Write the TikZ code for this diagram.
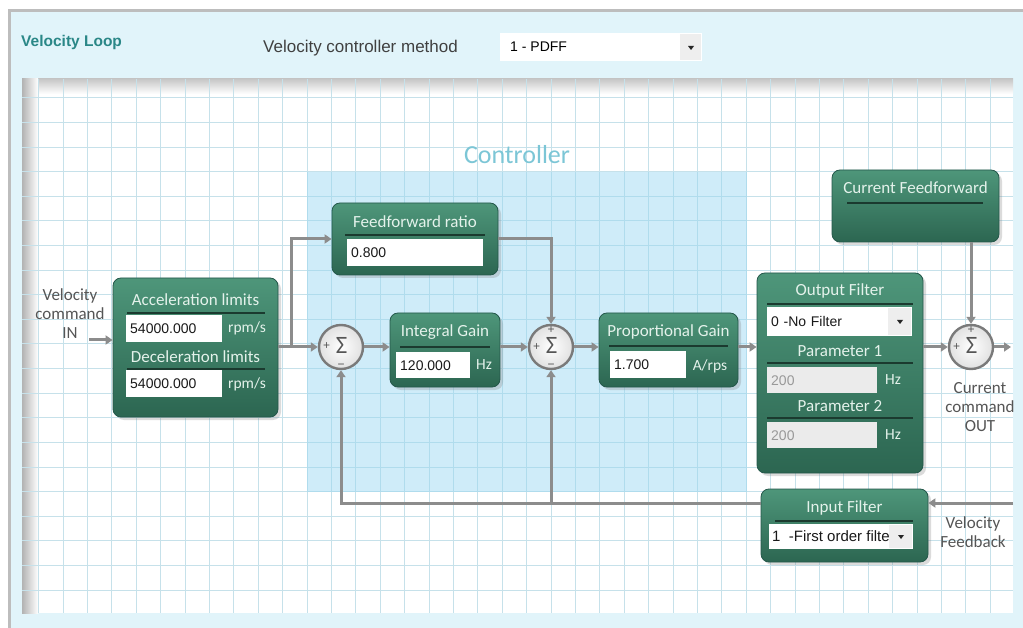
\documentclass[tikz,border=0pt]{standalone}
\usepackage{fontspec}
\setmainfont{Carlito}
\newfontfamily\arialf{Liberation Sans}
\usetikzlibrary{arrows.meta,shadows,calc}

\definecolor{panelbg}{HTML}{E1F4FA}
\definecolor{framegray}{HTML}{BDBDBD}
\definecolor{gridln}{HTML}{C6E1EA}
\definecolor{ctrlblue}{HTML}{96D7F2}
\definecolor{ctrltext}{HTML}{7CC6D6}
\definecolor{blkTop}{HTML}{4E967A}
\definecolor{blkBot}{HTML}{2C6651}
\definecolor{blkEdge}{HTML}{24574A}
\definecolor{blkText}{HTML}{E4F2EB}
\definecolor{grooveclr}{HTML}{1B3A2F}
\definecolor{wireclr}{HTML}{8C8C8C}
\definecolor{labelgray}{HTML}{555555}
\definecolor{loopteal}{HTML}{2A8787}
\definecolor{fieldgray}{HTML}{EBEBEB}
\definecolor{btngray}{HTML}{EEEEEE}
\definecolor{sumring}{HTML}{7A7A7A}
\definecolor{sumtext}{HTML}{555555}

\begin{document}
\begin{tikzpicture}[x=1pt,y=-1pt,
  block/.style={rounded corners=8pt, draw=blkEdge, line width=0.8pt,
    top color=blkTop, bottom color=blkBot, inner sep=0pt,
    drop shadow={opacity=0.28, shadow xshift=3pt, shadow yshift=-3pt}},
  ttl/.style={text=blkText, font=\fontsize{17}{19}\selectfont, inner sep=0pt},
  unit/.style={text=blkText, font=\fontsize{15.5}{17}\selectfont, inner sep=0pt},
  fld/.style={fill=white, text=black!90, font=\arialf\fontsize{14}{16}\selectfont,
    align=left, inner xsep=4pt, inner ysep=0pt, anchor=north west},
  greyfld/.style={fld, fill=fieldgray, text=black!40},
  lbl/.style={text=labelgray, font=\fontsize{17}{19}\selectfont, align=center, inner sep=0pt},
  groove/.style={draw=grooveclr, line width=2pt},
  wire/.style={draw=wireclr, line width=3pt, -{Triangle[length=7pt,width=9pt]}},
  sumj/.style={circle, minimum size=44pt, inner sep=0pt, draw=sumring, line width=2.4pt,
    inner color=white, outer color=black!12},
  sigma/.style={text=sumtext, font=\fontsize{25}{25}\selectfont, inner sep=0pt,
    text height=16pt, text depth=0pt},
  sgn/.style={text=sumtext, font=\arialf\fontsize{12}{12}\selectfont, inner sep=0pt},
  ddarrow/.style={fill=black!85}
]
\useasboundingbox (0,0) rectangle (1023,628);

% panel and frame
\fill[white] (0,0) rectangle (1023,628);
\fill[panelbg] (10,11) rectangle (1023,628);
\draw[framegray, line width=3pt] (9.5,628) -- (9.5,11) -- (1023,11);

% header row
\node[font=\arialf\bfseries\fontsize{15.5}{17}\selectfont, text=loopteal, anchor=west, inner sep=0pt]
  (loopTitle) at (21,42) {Velocity Loop};
\node[font=\arialf\fontsize{17}{19}\selectfont, text=black!75, anchor=west, inner sep=0pt]
  (methodLbl) at (263,48) {Velocity controller method};
\node[fill=white, minimum width=202pt, minimum height=28pt, anchor=north west, inner sep=0pt]
  (methodBox) at (500,33) {};
\fill[btngray] (680,34) rectangle (701,60);
\fill[ddarrow] (688,46) -- (694,46) -- (691,50) -- cycle;
\node[font=\arialf\fontsize{14}{16}\selectfont, anchor=west, inner sep=0pt]
  (methodVal) at (510,47) {1 - PDFF};

% grid sheet
\fill[white] (22,79) rectangle (1013,613);
\shade[top color=black!22, bottom color=white] (22,79) rectangle (1013,94);
\shade[left color=black!30, right color=white] (22,79) rectangle (38,613);
\begin{scope}
  \clip (22,79) rectangle (1013,613);
  \foreach \i in {0,...,40} \draw[gridln, line width=1pt] ({38.6+24.4*\i},79) -- ++(0,534);
  \foreach \j in {0,...,21} \draw[gridln, line width=1pt] (22,{98+24.6*\j}) -- ++(991,0);
\end{scope}

% controller region
\fill[ctrlblue, fill opacity=0.45] (307,172) rectangle (747,492);
\node[text=ctrltext, font=\fontsize{26}{26}\selectfont, inner sep=0pt] (ctrlLbl) at (517,155) {Controller};

% ---- blocks ----
% acceleration / deceleration limits
\node[block, minimum width=165pt, minimum height=139pt] (acc) at (195.5,347.5) {};
\node[ttl] (accT) at (195.5,300) {Acceleration limits};
\draw[groove] (127,313) -- (265,313);
\node[fld, text width=88pt, minimum height=27pt] (accV) at (126,315) {54000.000};
\node[unit] (accU) at (247,328) {rpm/s};
\node[ttl] (decT) at (195.5,357) {Deceleration limits};
\draw[groove] (127,369) -- (265,369);
\node[fld, text width=88pt, minimum height=27pt] (decV) at (126,370) {54000.000};
\node[unit] (decU) at (247,384) {rpm/s};

% feedforward ratio
\node[block, minimum width=166pt, minimum height=72pt] (ff) at (415,239) {};
\node[ttl] (ffT) at (415,222) {Feedforward ratio};
\draw[groove] (345,235) -- (485,235);
\node[fld, text width=128pt, minimum height=27pt] (ffV) at (347,239) {0.800};

% integral gain
\node[block, minimum width=110pt, minimum height=74pt] (ig) at (445,350) {};
\node[ttl] (igT) at (445,332) {Integral Gain};
\draw[groove] (400,347) -- (490,347);
\node[fld, text width=66pt, minimum height=26pt] (igV) at (396,352) {120.000};
\node[unit] (igU) at (484,365) {Hz};

% proportional gain
\node[block, minimum width=139pt, minimum height=74pt] (pg) at (668.5,350) {};
\node[ttl] (pgT) at (668.5,332) {Proportional Gain};
\draw[groove] (609,346) -- (728,346);
\node[fld, text width=68pt, minimum height=27pt] (pgV) at (610,351) {1.700};
\node[unit] (pgU) at (710,366) {A/rps};

% output filter
\node[block, minimum width=166pt, minimum height=200pt] (of) at (840,373) {};
\node[ttl] (ofT) at (840,291) {Output Filter};
\draw[groove] (767,304) -- (913,304);
\node[fld, text width=137pt, minimum height=29pt] (ofSel) at (767,307) {0 -No Filter};
\fill[btngray] (888,308) rectangle (911,335);
\fill[ddarrow] (897,320) -- (903,320) -- (900,324) -- cycle;
\node[ttl] (p1T) at (840,351) {Parameter 1};
\draw[groove] (767,363) -- (913,363);
\node[greyfld, text width=102pt, minimum height=26pt] (p1V) at (767,367) {200};
\node[unit] (p1U) at (893,380) {Hz};
\node[ttl] (p2T) at (840,406) {Parameter 2};
\draw[groove] (767,418) -- (913,418);
\node[greyfld, text width=102pt, minimum height=26pt] (p2V) at (767,422) {200};
\node[unit] (p2U) at (893,435) {Hz};

% current feedforward
\node[block, minimum width=167pt, minimum height=72pt] (cf) at (915.5,206) {};
\node[ttl] (cfT) at (915.5,188) {Current Feedforward};
\draw[groove] (847,203) -- (983,203);

% input filter
\node[block, minimum width=167pt, minimum height=73pt] (inf) at (844.5,525.5) {};
\node[ttl] (infT) at (844.5,508) {Input Filter};
\draw[groove] (775,521) -- (913,521);
\fill[white] (769,524) rectangle (913,549);
\begin{scope}
  \clip (769,524) rectangle (888,549);
  \node[font=\arialf\fontsize{15}{16}\selectfont, text=black!90, anchor=west, inner sep=0pt]
    (infSel) at (772,536.5) {1 \ -First order filter};
\end{scope}
\fill[btngray] (889,525) rectangle (912,548);
\fill[ddarrow] (898,535) -- (904,535) -- (901,539) -- cycle;

% ---- summing junctions ----
\node[sumj] (s1) at (341,347) {};
\node[sigma] (s1g) at ($(s1)+(0.5,-2)$) {Σ};
\node[sgn] (s1a) at ($(s1)+(-14.5,-1)$) {+};
\node[sgn] (s1b) at ($(s1)+(0,19)$) {−};

\node[sumj] (s2) at (551,347) {};
\node[sigma] (s2g) at ($(s2)+(0.5,-1)$) {Σ};
\node[sgn] (s2a) at ($(s2)+(-14.5,0)$) {+};
\node[sgn] (s2c) at ($(s2)+(0,-16.5)$) {+};
\node[sgn] (s2b) at ($(s2)+(0,19)$) {−};

\node[sumj] (s3) at (971,347) {};
\node[sigma] (s3g) at ($(s3)+(0.5,-1)$) {Σ};
\node[sgn] (s3a) at ($(s3)+(-14.5,0)$) {+};
\node[sgn] (s3c) at ($(s3)+(0,-16.5)$) {+};

% ---- labels ----
\node[lbl] (vinL) at (70,314) {Velocity\\command\\IN};
\node[lbl] (outL) at (980,407) {Current\\command\\OUT};
\node[lbl] (fbL) at (973,532) {Velocity\\Feedback};

% ---- connectors ----
\coordinate (vinA) at (89,340);
\coordinate (br) at (291,347);
\coordinate (outEnd) at (1011,347);
\coordinate (fbIn) at (1013,503);

\draw[wire] (vinA) -- (vinA -| acc.west);
\draw[wire] (acc.east |- s1) -- (s1.west);
\draw[wire] (br) |- (ff.west);
\draw[wire] (s1.east) -- (s1.east -| ig.west);
\draw[wire] (ig.east |- s2) -- (s2.west);
\draw[wire] (ff.east) -| (s2.north);
\draw[wire] (s2.east) -- (s2.east -| pg.west);
\draw[wire] (pg.east |- s2) -- (of.west |- s2);
\draw[wire] (of.east |- s3) -- (s3.west);
\draw[wire] (s3.east) -- (outEnd);
\draw[wire] (cf.south -| s3) -- (s3.north);
\draw[wire] (fbIn) -- (fbIn -| inf.east);
\draw[wire] (inf.west |- fbIn) -| (s1.south);
\draw[wire] (s2.south |- fbIn) -- (s2.south);
\end{tikzpicture}
\end{document}
